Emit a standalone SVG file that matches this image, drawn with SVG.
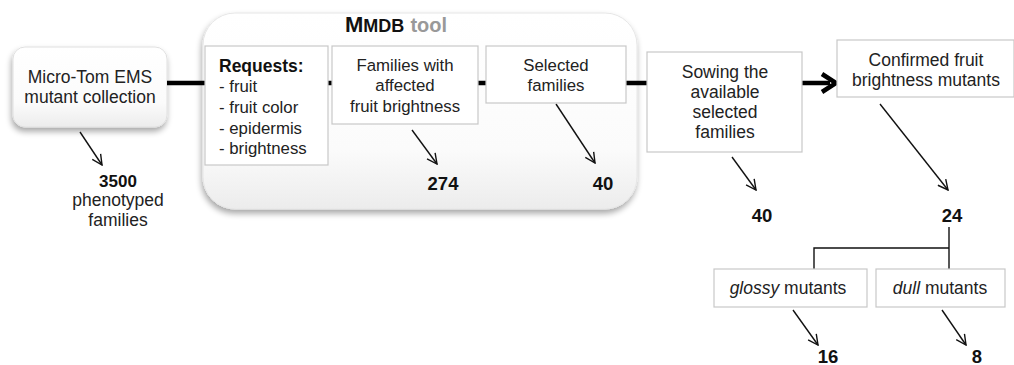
<svg xmlns="http://www.w3.org/2000/svg" width="1014" height="365" viewBox="0 0 1014 365">
<defs>
<style>
text{font-family:"Liberation Sans",Arial,sans-serif;font-size:17.5px;fill:#222}
.i{font-size:16.8px}
.c{text-anchor:middle}
.b{font-weight:bold;font-size:18.5px;fill:#111}
.box{fill:#fff;stroke:#c8c8c8;stroke-width:1.2}
.thin{stroke:#111;stroke-width:1.4;fill:none}
.thick{stroke:#000;stroke-width:4.5;fill:none}
</style>
<linearGradient id="g1" x1="0" y1="0" x2="0" y2="1">
<stop offset="0" stop-color="#ffffff"/>
<stop offset="0.7" stop-color="#fbfbfb"/>
<stop offset="1" stop-color="#ececec"/>
</linearGradient>
<filter id="sh" x="-10%" y="-10%" width="120%" height="130%">
<feGaussianBlur in="SourceAlpha" stdDeviation="3"/>
<feOffset dx="-1" dy="4" result="o"/>
<feComponentTransfer><feFuncA type="linear" slope="0.35"/></feComponentTransfer>
<feMerge><feMergeNode/><feMergeNode in="SourceGraphic"/></feMerge>
</filter>
<marker id="ah" viewBox="0 0 12 12" refX="11" refY="6" markerWidth="12" markerHeight="12" markerUnits="userSpaceOnUse" orient="auto">
<path d="M1,1 L11,6 L1,11" fill="none" stroke="#111" stroke-width="1.4"/>
</marker>
</defs>

<g id="mmdb">
<rect x="203" y="13" width="434" height="196" rx="32" fill="url(#g1)" stroke="#e6e6e6" filter="url(#sh)"/>
<text x="345" y="32" style="font-weight:bold;font-size:22px;fill:#111">M<tspan style="font-size:18px">MDB</tspan> <tspan style="fill:#999;font-size:20px">tool</tspan></text>
</g>

<g id="microtom">
<rect x="13" y="47" width="154" height="80" rx="12" fill="url(#g1)" stroke="#e0e0e0" filter="url(#sh)"/>
<text class="c" x="90" y="83">Micro-Tom EMS</text>
<text class="c" x="90" y="103">mutant collection</text>
</g>

<g id="connectors">
<line class="thick" x1="167" y1="83" x2="206" y2="83"/>
<line class="thick" x1="328" y1="83" x2="332" y2="83"/>
<line class="thick" x1="478" y1="83" x2="486" y2="83"/>
<line class="thick" x1="626" y1="83" x2="648" y2="83"/>
<line class="thick" x1="802" y1="83" x2="830" y2="83"/>
<path d="M822,74 L836,83 L822,92" fill="none" stroke="#000" stroke-width="4.5" stroke-linejoin="miter"/>
<line class="thin" x1="80" y1="132" x2="102" y2="165" marker-end="url(#ah)"/>
<line class="thin" x1="412" y1="130" x2="437" y2="164" marker-end="url(#ah)"/>
<line class="thin" x1="556" y1="104" x2="595" y2="163" marker-end="url(#ah)"/>
<line class="thin" x1="732" y1="157" x2="756" y2="190" marker-end="url(#ah)"/>
<line class="thin" x1="880" y1="104" x2="948" y2="190" marker-end="url(#ah)"/>
<path class="thin" d="M949,227 V269 M949,248 H814 V269"/>
<line class="thin" x1="793" y1="310" x2="818" y2="345" marker-end="url(#ah)"/>
<line class="thin" x1="942" y1="310" x2="966" y2="345" marker-end="url(#ah)"/>
</g>

<g id="n3500">
<text class="c b" x="118" y="187" style="font-size:17px">3500</text>
<text class="c" x="118" y="206">phenotyped</text>
<text class="c" x="118" y="226">families</text>
</g>

<g id="requests">
<rect class="box" x="205" y="46" width="123" height="119"/>
<text class="i" x="219" y="72" style="font-weight:bold;fill:#111;font-size:17.5px">Requests:</text>
<text class="i" x="219" y="92">- fruit</text>
<text class="i" x="219" y="113">- fruit color</text>
<text class="i" x="219" y="134">- epidermis</text>
<text class="i" x="219" y="154">- brightness</text>
</g>

<g id="families">
<rect class="box" x="332" y="46" width="146" height="78"/>
<text class="c i" x="405" y="71">Families with</text>
<text class="c i" x="405" y="91">affected</text>
<text class="c i" x="405" y="112">fruit brightness</text>
</g>
<g id="n274"><text class="c b" x="443" y="190">274</text></g>

<g id="selected">
<rect class="box" x="486" y="46" width="140" height="57"/>
<text class="c i" x="556" y="71">Selected</text>
<text class="c i" x="556" y="91">families</text>
</g>
<g id="n40a"><text class="c b" x="603" y="190">40</text></g>

<g id="sowing">
<rect class="box" x="647" y="52" width="155" height="100"/>
<text class="c" x="725" y="78">Sowing the</text>
<text class="c" x="725" y="98">available</text>
<text class="c" x="725" y="118">selected</text>
<text class="c" x="725" y="138">families</text>
</g>
<g id="n40b"><text class="c b" x="762" y="222">40</text></g>

<g id="confirmed">
<rect class="box" x="837" y="40" width="177" height="57"/>
<text class="c" x="926" y="66">Confirmed fruit</text>
<text class="c" x="926" y="86">brightness mutants</text>
</g>
<g id="n24"><text class="c b" x="952" y="222">24</text></g>

<g id="glossy">
<rect class="box" x="714" y="269" width="153" height="38"/>
<text class="c" x="788" y="294"><tspan font-style="italic">glossy</tspan> mutants</text>
</g>
<g id="n16"><text class="c b" x="828" y="363">16</text></g>

<g id="dull">
<rect class="box" x="876" y="269" width="129" height="38"/>
<text class="c" x="940" y="294"><tspan font-style="italic">dull</tspan> mutants</text>
</g>
<g id="n8"><text class="c b" x="977" y="363">8</text></g>
</svg>
